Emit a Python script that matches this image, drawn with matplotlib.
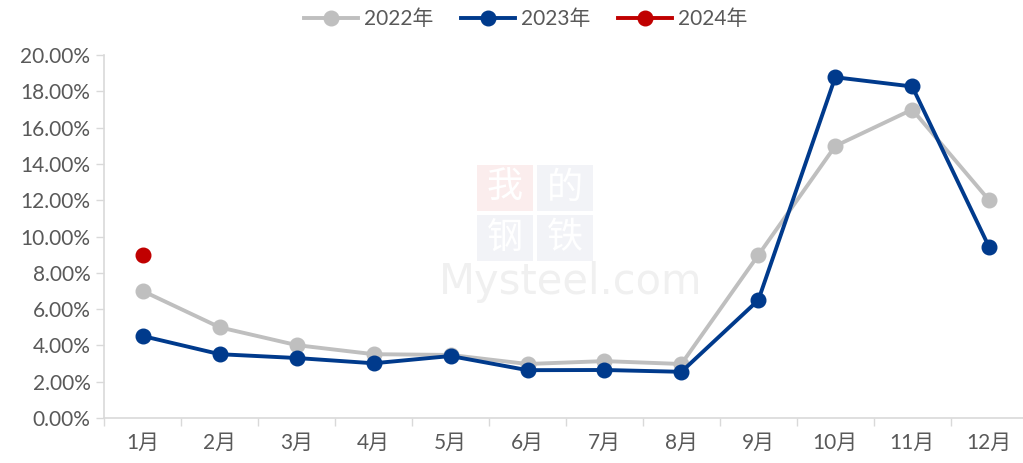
import numpy as np
import matplotlib.pyplot as plt
from matplotlib.patches import Rectangle

months = ['1月', '2月', '3月', '4月', '5月', '6月', '7月', '8月', '9月', '10月', '11月', '12月']
y2022 = [7.0, 5.0, 4.02, 3.52, 3.48, 2.98, 3.14, 2.98, 8.98, 14.99, 17.0, 12.0]
y2023 = [4.52, 3.52, 3.31, 3.02, 3.42, 2.64, 2.65, 2.55, 6.5, 18.78, 18.27, 9.42]
y2024 = [8.98]

plt.rcParams['font.family'] = ['Lato', 'Noto Sans CJK SC', 'DejaVu Sans']

W, H = 1023, 463
fig = plt.figure(figsize=(W / 100, H / 100), dpi=100)
ax = fig.add_axes([0.102, 0.097, 0.898, 0.784])

x = np.arange(len(months))
ax.plot(x, y2022, color='#BFBFBF', lw=2.8, marker='o', ms=10.5, label='2022年', zorder=3)
ax.plot(x, y2023, color='#003A8C', lw=2.8, marker='o', ms=10.5, label='2023年', zorder=4)
ax.plot(x[:len(y2024)], y2024, color='#C00000', lw=2.8, marker='o', ms=10.5, label='2024年', zorder=5)

# watermark: tinted squares with white characters
boxes = [('我', 477, 165, '#FBEDED'), ('的', 537, 165, '#F2F3F7'),
         ('钢', 477, 215, '#F2F3F7'), ('铁', 537, 215, '#F2F3F7')]
for ch, bx, by, fc in boxes:
    fig.patches.append(Rectangle((bx / W, 1 - (by + 46) / H), 56 / W, 46 / H,
                                 transform=fig.transFigure, facecolor=fc, edgecolor='none', zorder=0))
    fig.text((bx + 28) / W, 1 - (by + 23) / H, ch, color='white', fontsize=26,
             ha='center', va='center', family=['Noto Sans CJK SC'], zorder=1)
fig.text(571 / W, 1 - 282 / H, 'Mysteel.com', color='#F0F0F0', fontsize=30, ha='center', va='center',
         zorder=0, family='DejaVu Sans')

ax.set_xlim(-0.5, 11.44)
ax.set_ylim(0, 20)
ax.set_yticks(np.arange(0, 21, 2))
ax.set_yticklabels(['%.2f%%' % v for v in np.arange(0, 21, 2)])
ax.set_xticks(x)
ax.set_xticklabels(months)
ax.set_xticks(np.arange(-0.5, 11.5, 1), minor=True)
ax.tick_params(axis='x', which='major', length=0, pad=11, labelsize=15, labelcolor='#595959')
ax.tick_params(axis='x', which='minor', length=6, color='#D9D9D9', width=1)
ax.tick_params(axis='y', length=6, color='#D9D9D9', width=1, labelsize=15, labelcolor='#595959', pad=4)
ax.patch.set_alpha(0)

for s in ['top', 'right']:
    ax.spines[s].set_visible(False)
ax.spines['left'].set_color('#D9D9D9')
ax.spines['bottom'].set_color('#D9D9D9')
ax.spines['left'].set_linewidth(1.2)
ax.spines['bottom'].set_linewidth(1.2)

leg = fig.legend(loc='upper center', bbox_to_anchor=(0.514, 1.02), ncol=3, frameon=False,
                 fontsize=15, handlelength=2.6, columnspacing=1.3, handletextpad=0.3)
for t in leg.get_texts():
    t.set_color('#595959')

fig.savefig('out.png', dpi=100)
